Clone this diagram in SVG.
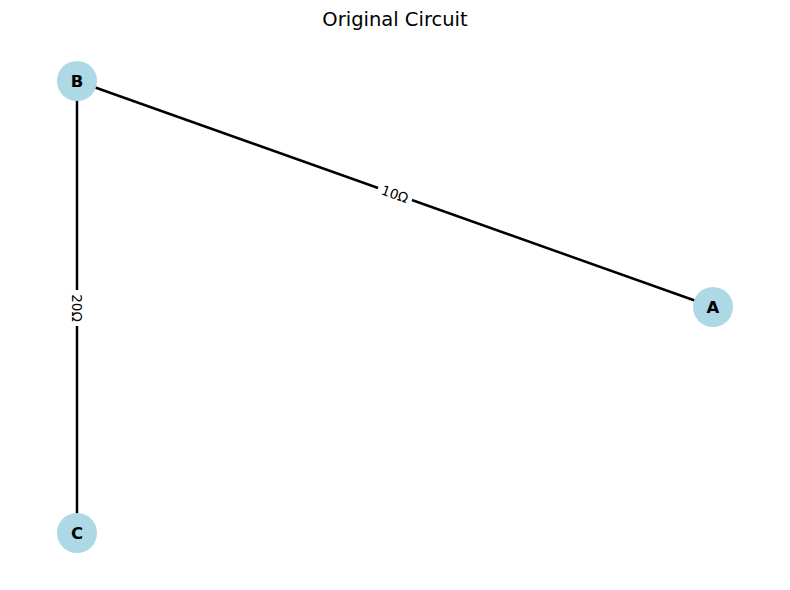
<svg xmlns="http://www.w3.org/2000/svg" width="790" height="590" viewBox="0 0 790 590">
<style>
.edge{stroke:#000;stroke-width:2.5;fill:none}
.node circle{fill:#add8e6}
.node text{font-family:"DejaVu Sans",sans-serif;font-size:16.5px;font-weight:bold;fill:#000;text-anchor:middle;dominant-baseline:central}
.elabel rect{fill:#fff}
.elabel text{font-family:"DejaVu Sans",sans-serif;font-size:13.5px;fill:#000;text-anchor:middle;dominant-baseline:central}
.title{font-family:"DejaVu Sans",sans-serif;font-size:19.5px;fill:#000;text-anchor:middle;dominant-baseline:central}
</style>
<rect width="790" height="590" fill="#fff"/>
<text class="title" x="395" y="19">Original Circuit</text>
<g id="connectors">
<line class="edge" x1="77" y1="81" x2="713" y2="307"/>
<line class="edge" x1="77" y1="81" x2="77" y2="533"/>
<g class="elabel" transform="translate(395,194) rotate(19.56)">
<rect x="-18" y="-8" width="36" height="16"/>
<text x="0" y="0">10Ω</text>
</g>
<g class="elabel" transform="translate(77,308) rotate(90)">
<rect x="-18" y="-8" width="36" height="16"/>
<text x="0" y="0">20Ω</text>
</g>
</g>
<g id="node-B" class="node"><circle cx="77" cy="81" r="20"/><text x="77" y="81">B</text></g>
<g id="node-A" class="node"><circle cx="713" cy="307" r="20"/><text x="713" y="307">A</text></g>
<g id="node-C" class="node"><circle cx="77" cy="533" r="20"/><text x="77" y="533">C</text></g>
</svg>
